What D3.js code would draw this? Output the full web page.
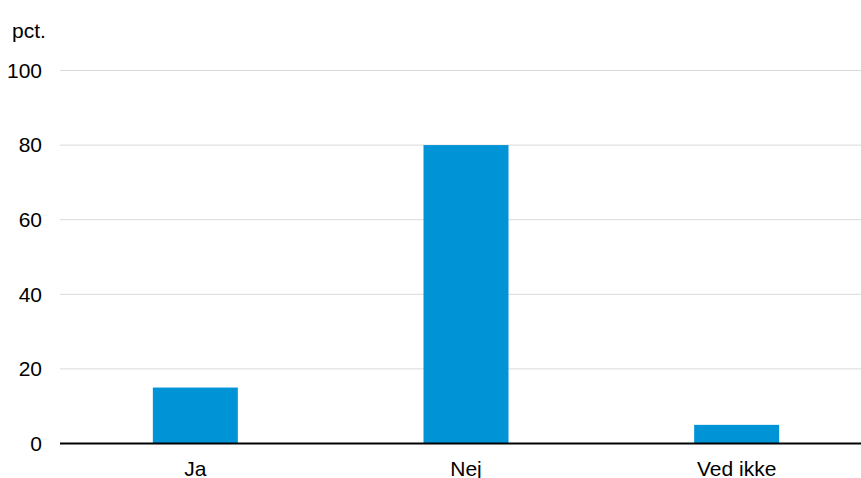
<!DOCTYPE html>
<html><head><meta charset="utf-8">
<script src="https://cdn.jsdelivr.net/npm/d3@7"></script>
<style>body{margin:0;background:#fff}svg{display:block;font-family:"Liberation Sans",Arial,sans-serif}</style>
</head><body>
<svg id="c" width="861" height="478"></svg>
<script>
const categories = ["Ja", "Nej", "Ved ikke"];
const values = [15, 80, 5];
const yTicks = [0, 20, 40, 60, 80, 100];
const yLabel = "pct.";

const svg = d3.select("#c");
const x = d3.scaleBand().domain(categories).range([60, 872]).paddingInner(0.686).paddingOuter(0.343);
const y = d3.scaleLinear().domain([0, 100]).range([443.5, 70.5]);

// gridlines
svg.append("g").selectAll("line").data(yTicks.filter(d => d > 0)).join("line")
  .attr("x1", 60).attr("x2", 861)
  .attr("y1", d => y(d)).attr("y2", d => y(d))
  .attr("stroke", "#d9d9d9").attr("stroke-width", 1);

// y axis labels
const ya = svg.append("g").attr("transform", "translate(42,0)")
  .call(d3.axisLeft(y).tickValues(yTicks).tickSize(0).tickPadding(0));
ya.select(".domain").remove();
ya.selectAll("text").attr("font-size", 21).attr("fill", "#000")
  .attr("font-family", "Liberation Sans, Arial, sans-serif");

svg.append("text").attr("x", 12).attr("y", 38).attr("font-size", 21).attr("fill", "#000").text(yLabel);

// bars
svg.append("g").selectAll("rect").data(values).join("rect")
  .attr("x", (d, i) => x(categories[i]))
  .attr("width", x.bandwidth())
  .attr("y", d => y(d))
  .attr("height", d => y(0) - y(d))
  .attr("fill", "#0093d6");

// baseline
svg.append("line").attr("x1", 60).attr("x2", 861).attr("y1", y(0)).attr("y2", y(0))
  .attr("stroke", "#000").attr("stroke-width", 2);

// x axis labels
const xa = svg.append("g").attr("transform", `translate(0,${y(0)})`)
  .call(d3.axisBottom(x).tickSize(0).tickPadding(0));
xa.select(".domain").remove();
xa.selectAll("text").attr("font-size", 21).attr("fill", "#000")
  .attr("dy", null).attr("y", 32.5)
  .attr("font-family", "Liberation Sans, Arial, sans-serif");
</script>
</body></html>
